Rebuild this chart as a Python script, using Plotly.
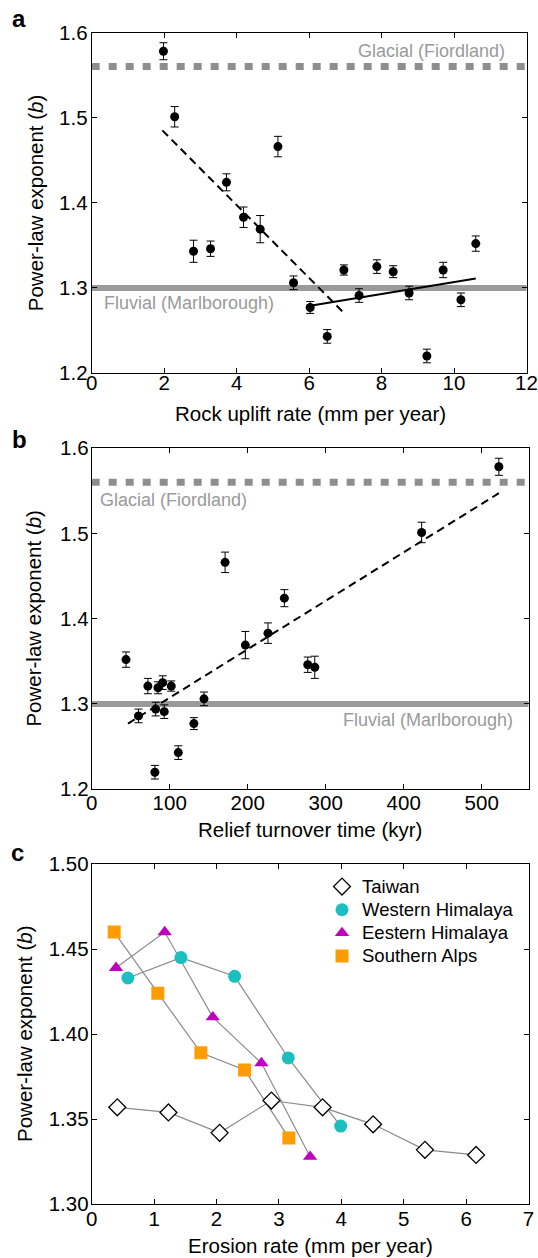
import plotly.graph_objects as go

W, H = 538, 1258

# ---------------- data: panels a & b (same 20 catchments) ----------------
uplift_rate = [1.98, 2.29, 2.81, 3.28, 3.72, 4.19, 4.65, 5.14, 5.57, 6.03,
               6.50, 6.96, 7.38, 7.87, 8.32, 8.76, 9.25, 9.70, 10.19, 10.60]
turnover_time = [522, 423, 286, 277, 247, 226, 197, 171, 144, 131,
                 111, 102, 93, 91, 85, 82, 81, 72, 60, 44]
exponent_b = [1.578, 1.501, 1.343, 1.346, 1.424, 1.383, 1.369, 1.466, 1.306, 1.277,
              1.243, 1.321, 1.291, 1.325, 1.319, 1.294, 1.220, 1.321, 1.286, 1.352]
exponent_err = [0.010, 0.012, 0.013, 0.009, 0.010, 0.012, 0.016, 0.012, 0.008, 0.007,
                0.008, 0.006, 0.008, 0.008, 0.007, 0.008, 0.008, 0.009, 0.008, 0.009]

fit_uplift_dash_x = [1.95, 6.95]
fit_uplift_dash_y = [1.485, 1.271]
fit_uplift_solid_x = [6.03, 10.60]
fit_uplift_solid_y = [1.279, 1.311]
fit_turnover_x = [46.5, 522]
fit_turnover_y = [1.277, 1.547]

glacial_b = 1.56
fluvial_b = 1.30

# ---------------- data: panel c ----------------
taiwan_x = [0.41, 1.23, 2.05, 2.88, 3.70, 4.51, 5.34, 6.16]
taiwan_y = [1.357, 1.354, 1.342, 1.361, 1.357, 1.347, 1.332, 1.329]
whim_x = [0.58, 1.43, 2.29, 3.15, 3.99]
whim_y = [1.433, 1.445, 1.434, 1.386, 1.346]
ehim_x = [0.39, 1.17, 1.94, 2.72, 3.50]
ehim_y = [1.439, 1.460, 1.410, 1.383, 1.328]
salps_x = [0.36, 1.06, 1.75, 2.45, 3.16]
salps_y = [1.460, 1.424, 1.389, 1.379, 1.339]

a_xticks = [0, 2, 4, 6, 8, 10, 12]
b_xticks = [0, 100, 200, 300, 400, 500]
c_xticks = [0, 1, 2, 3, 4, 5, 6, 7]
ab_yticks = [1.2, 1.3, 1.4, 1.5, 1.6]
c_yticks = [1.30, 1.35, 1.40, 1.45, 1.50]

FONT = "Liberation Sans, Arial, Helvetica, sans-serif"
GRAY_TXT = "#9a9a9a"


def px(x):
    return x / W


def py(y):
    return 1 - y / H


fig = go.Figure()

# ---------------- panel a ----------------
fig.add_trace(go.Scatter(x=fit_uplift_dash_x, y=fit_uplift_dash_y, mode="lines",
                         line=dict(color="black", width=2, dash="8px,5px"),
                         xaxis="x", yaxis="y", showlegend=False))
fig.add_trace(go.Scatter(x=fit_uplift_solid_x, y=fit_uplift_solid_y, mode="lines",
                         line=dict(color="black", width=2),
                         xaxis="x", yaxis="y", showlegend=False))
fig.add_trace(go.Scatter(x=uplift_rate, y=exponent_b, mode="markers",
                         marker=dict(color="black", size=9),
                         error_y=dict(type="data", array=exponent_err, color="black",
                                      thickness=1, width=4),
                         xaxis="x", yaxis="y", showlegend=False))

# ---------------- panel b ----------------
fig.add_trace(go.Scatter(x=fit_turnover_x, y=fit_turnover_y, mode="lines",
                         line=dict(color="black", width=2, dash="8px,5px"),
                         xaxis="x2", yaxis="y2", showlegend=False))
fig.add_trace(go.Scatter(x=turnover_time, y=exponent_b, mode="markers",
                         marker=dict(color="black", size=9),
                         error_y=dict(type="data", array=exponent_err, color="black",
                                      thickness=1, width=4),
                         xaxis="x2", yaxis="y2", showlegend=False))

# ---------------- panel c ----------------
series = [
    ("Taiwan", taiwan_x, taiwan_y, dict(symbol="diamond", size=13, color="white",
                                        line=dict(color="black", width=1.3))),
    ("Western Himalaya", whim_x, whim_y, dict(symbol="circle", size=13, color="#1cbfbf")),
    ("Eestern Himalaya", ehim_x, ehim_y, dict(symbol="triangle-up", size=12.5, color="#bf00bf")),
    ("Southern Alps", salps_x, salps_y, dict(symbol="square", size=13, color="#ff9c00")),
]
for name, xs, ys, mk in series:
    fig.add_trace(go.Scatter(x=xs, y=ys, mode="lines",
                             line=dict(color="#8a8a8a", width=1.2),
                             xaxis="x3", yaxis="y3", showlegend=False))
for name, xs, ys, mk in series:
    fig.add_trace(go.Scatter(x=xs, y=ys, mode="markers", marker=mk,
                             name='<span style="font-size:18.5px">%s</span>' % name,
                             xaxis="x3", yaxis="y3", showlegend=True))

# reference lines
shapes = []
for xr, yr in [("x", "y"), ("x2", "y2")]:
    shapes.append(dict(type="line", xref=xr + " domain", yref=yr, x0=0, x1=1,
                       y0=glacial_b, y1=glacial_b,
                       line=dict(color="#8e8e8e", width=7, dash="8px,9px"), layer="below"))
    shapes.append(dict(type="line", xref=xr + " domain", yref=yr, x0=0, x1=1,
                       y0=fluvial_b, y1=fluvial_b,
                       line=dict(color="#9a9a9a", width=6), layer="below"))

axis_common = dict(showline=True, linecolor="black", linewidth=1, mirror="ticks",
                   ticks="inside", ticklen=5, tickwidth=1, tickcolor="black",
                   showgrid=False, zeroline=False, automargin=False,
                   ticklabeloverflow="allow",
                   tickfont=dict(family=FONT, size=20.5, color="black"))

XD_A = [px(91.7), px(526.5)]
XD = [px(91.7), px(528.5)]
fig.update_layout(
    width=W, height=H,
    margin=dict(l=0, r=0, t=0, b=0, autoexpand=False),
    paper_bgcolor="white", plot_bgcolor="white",
    font=dict(family=FONT, color="black"),
    xaxis=dict(domain=XD_A, range=[0, 12], tickvals=a_xticks, anchor="y",
               ticklabelstandoff=-9, **axis_common),
    yaxis=dict(domain=[py(373), py(32.5)], range=[1.2, 1.6], tickvals=ab_yticks,
               tickformat=".1f", anchor="x", ticklabelstandoff=-1, **axis_common),
    xaxis2=dict(domain=XD, range=[0, 560], tickvals=b_xticks, anchor="y2",
                ticklabelstandoff=-5, **axis_common),
    yaxis2=dict(domain=[py(789.3), py(448)], range=[1.2, 1.6], tickvals=ab_yticks,
                tickformat=".1f", anchor="x2", ticklabelstandoff=-2, **axis_common),
    xaxis3=dict(domain=XD, range=[0, 7], tickvals=c_xticks, anchor="y3",
                ticklabelstandoff=-4, **axis_common),
    yaxis3=dict(domain=[py(1204.3), py(864)], range=[1.30, 1.50], tickvals=c_yticks,
                tickformat=".2f", anchor="x3", ticklabelstandoff=-2, **axis_common),
    shapes=shapes,
    legend=dict(x=px(322), y=py(870), xanchor="left", yanchor="top",
                bgcolor="rgba(0,0,0,0)", borderwidth=0,
                font=dict(family=FONT, size=15.5, color="black"),
                tracegroupgap=0, itemwidth=30),
)

ann = []


def add_text(text, x, y, size, color="black", xanchor="center", yanchor="middle",
             angle=0):
    ann.append(dict(text=text, x=px(x), y=py(y), xref="paper", yref="paper",
                    showarrow=False, xanchor=xanchor, yanchor=yanchor, textangle=angle,
                    font=dict(family=FONT, size=size, color=color)))


# panel letters
add_text("<b>a</b>", 19, 19, 24)
add_text("<b>b</b>", 19, 439, 24)
add_text("<b>c</b>", 17, 852, 24)

ytitle = "Power-law exponent (<i>b</i>)"
add_text(ytitle, 35.5, 202.7, 20.5, angle=-90)
add_text(ytitle, 34, 618.6, 20.5, angle=-90)
add_text(ytitle, 24, 1034, 20.5, angle=-90)

add_text("Rock uplift rate (mm per year)", 310, 414, 20.5)
add_text("Relief turnover time (kyr)", 310, 829, 20.5)
add_text("Erosion rate (mm per year)", 310, 1245, 20.5)

add_text("Glacial (Fiordland)", 507, 51, 18, GRAY_TXT, xanchor="right")
add_text("Fluvial (Marlborough)", 102, 303, 18, GRAY_TXT, xanchor="left")
add_text("Glacial (Fiordland)", 98.3, 500, 18, GRAY_TXT, xanchor="left")
add_text("Fluvial (Marlborough)", 515, 720, 18, GRAY_TXT, xanchor="right")

fig.update_layout(annotations=ann)

fig.write_html("out.html",
               config={"displayModeBar": False},
               post_script="document.body.style.margin='0px';"
                           "document.body.style.overflow='hidden';")
